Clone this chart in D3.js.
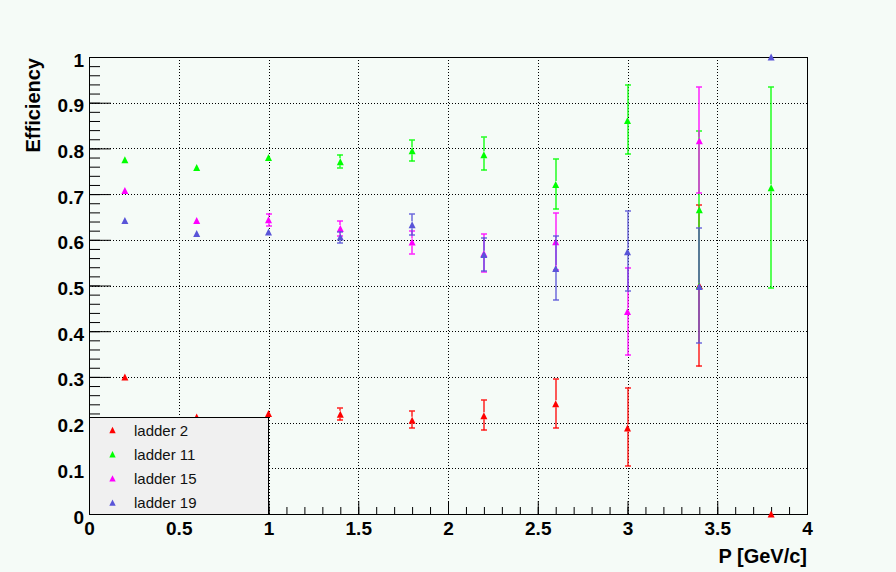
<!DOCTYPE html>
<html>
<head>
<meta charset="utf-8">
<script src="https://cdn.jsdelivr.net/npm/d3@7"></script>
<style>
  body { margin: 0; background: #f5fbf7; }
  svg { display: block; }
  text { font-family: "Liberation Sans", Arial, sans-serif; }
</style>
</head>
<body>
<svg id="chart" width="896" height="572"></svg>
<script>
// momentum bins (GeV/c)
const pValues = [0.2, 0.6, 1.0, 1.4, 1.8, 2.2, 2.6, 3.0, 3.4, 3.8];

// efficiency per ladder, with lower / upper errors (null = no point)
const ladder2Eff     = [0.300, 0.212, 0.220, 0.218, 0.205, 0.215, 0.241, 0.188, 0.500, 0.000];
const ladder2ErrLow  = [0.004, 0.006, 0.007, 0.013, 0.017, 0.032, 0.053, 0.083, 0.177, 0];
const ladder2ErrHigh = [0.004, 0.006, 0.007, 0.013, 0.020, 0.034, 0.054, 0.087, 0.176, 0];

const ladder11Eff     = [0.775, 0.758, 0.780, 0.771, 0.795, 0.786, 0.721, 0.861, 0.666, 0.714];
const ladder11ErrLow  = [0.005, 0.006, 0.007, 0.013, 0.023, 0.034, 0.054, 0.074, 0.172, 0.220];
const ladder11ErrHigh = [0.005, 0.006, 0.007, 0.015, 0.023, 0.038, 0.055, 0.077, 0.171, 0.220];

const ladder15Eff     = [0.708, 0.642, 0.644, 0.625, 0.595, 0.570, 0.596, 0.443, 0.817, null];
const ladder15ErrLow  = [0.005, 0.007, 0.013, 0.016, 0.025, 0.040, 0.062, 0.096, 0.115, 0];
const ladder15ErrHigh = [0.005, 0.007, 0.013, 0.016, 0.024, 0.042, 0.062, 0.096, 0.117, 0];

const ladder19Eff     = [0.642, 0.614, 0.617, 0.606, 0.633, 0.568, 0.537, 0.574, 0.498, 1.000];
const ladder19ErrLow  = [0.005, 0.007, 0.007, 0.013, 0.023, 0.037, 0.069, 0.085, 0.124, 0];
const ladder19ErrHigh = [0.005, 0.007, 0.007, 0.012, 0.023, 0.037, 0.071, 0.088, 0.127, 0];

const seriesNames  = ["ladder 2", "ladder 11", "ladder 15", "ladder 19"];
const seriesColors = ["#ff0000", "#00ff00", "#ff00ff", "#5954d8"];

const xMajorTicks = [0, 0.5, 1, 1.5, 2, 2.5, 3, 3.5, 4];
const yMajorTicks = [0, 0.1, 0.2, 0.3, 0.4, 0.5, 0.6, 0.7, 0.8, 0.9, 1];

const xTitle = "P [GeV/c]";
const yTitle = "Efficiency";

let margin = {top: 57, right: 89, bottom: 58, left: 89},
    width = 896 - margin.left - margin.right,
    height = 572 - margin.top - margin.bottom;

let markerSize = 3.5;

let svg = d3.select("#chart");
let g = svg.append("g").attr("transform", `translate(${margin.left},${margin.top})`);

let x = d3.scaleLinear().domain([0, 4]).range([0, width]);
let y = d3.scaleLinear().domain([0, 1]).range([height, 0]);

// build series objects from the arrays
let effs = [ladder2Eff, ladder11Eff, ladder15Eff, ladder19Eff];
let lows = [ladder2ErrLow, ladder11ErrLow, ladder15ErrLow, ladder19ErrLow];
let highs = [ladder2ErrHigh, ladder11ErrHigh, ladder15ErrHigh, ladder19ErrHigh];
let series = seriesNames.map(function (name, i) {
    let pts = [];
    pValues.forEach(function (p, j) {
        if (effs[i][j] === null) return;
        pts.push({p: p, eff: effs[i][j], lo: lows[i][j], hi: highs[i][j]});
    });
    return {name: name, color: seriesColors[i], points: pts};
});

// dotted grid
g.append("g").selectAll("line")
    .data(xMajorTicks.filter(d => d > 0 && d < 4))
    .enter().append("line")
    .attr("x1", d => Math.round(x(d)) + 0.5).attr("x2", d => Math.round(x(d)) + 0.5)
    .attr("y1", 0).attr("y2", height)
    .attr("stroke", "#000").attr("stroke-dasharray", "1,2");
g.append("g").selectAll("line")
    .data(yMajorTicks.filter(d => d > 0 && d < 1))
    .enter().append("line")
    .attr("y1", d => Math.round(y(d)) + 0.5).attr("y2", d => Math.round(y(d)) + 0.5)
    .attr("x1", 0).attr("x2", width)
    .attr("stroke", "#000").attr("stroke-dasharray", "1,2");

// frame
g.append("rect")
    .attr("x", 0.5).attr("y", 0.5)
    .attr("width", width).attr("height", height)
    .attr("fill", "none").attr("stroke", "#000");

// minor ticks
g.append("g")
    .call(d3.axisLeft(y).ticks(50).tickSizeInner(-11).tickSizeOuter(0).tickFormat(""))
    .call(a => a.select(".domain").remove());
g.append("g")
    .attr("transform", `translate(0,${height})`)
    .call(d3.axisBottom(x).ticks(40).tickSizeInner(-7).tickSizeOuter(0).tickFormat(""))
    .call(a => a.select(".domain").remove());

// major ticks + labels
let yAxis = g.append("g")
    .call(d3.axisLeft(y).tickValues(yMajorTicks).tickSizeInner(-22).tickSizeOuter(0)
        .tickPadding(5).tickFormat(d => String(+d.toFixed(1))));
yAxis.select(".domain").remove();
yAxis.selectAll("text")
    .attr("dy", null).attr("y", 9)
    .style("font-size", "19px").style("font-weight", "bold").attr("fill", "#000");

let xAxis = g.append("g")
    .attr("transform", `translate(0,${height})`)
    .call(d3.axisBottom(x).tickValues(xMajorTicks).tickSizeInner(-13).tickSizeOuter(0)
        .tickFormat(d => String(d)));
xAxis.select(".domain").remove();
xAxis.selectAll("text")
    .attr("dy", null).attr("y", 21)
    .style("font-size", "19px").style("font-weight", "bold").attr("fill", "#000");

// axis titles
svg.append("text")
    .attr("x", margin.left + width).attr("y", 563)
    .attr("text-anchor", "end")
    .style("font-size", "20px").style("font-weight", "bold")
    .text(xTitle);
svg.append("text")
    .attr("transform", "translate(39.5,58) rotate(-90)")
    .attr("text-anchor", "end")
    .style("font-size", "20px").style("font-weight", "bold")
    .text(yTitle);

// triangle marker path centred on 0,0
function triangle(s) {
    return `M0,${-s}L${s},${s}L${-s},${s}Z`;
}

// graphs: error bars (outside the marker, like ROOT) then markers
series.forEach(function (s) {
    let sg = g.append("g");
    let bars = [];
    s.points.forEach(function (d) {
        let cx = Math.round(x(d.p));
        let cy = y(d.eff);
        let top = y(d.eff + d.hi), bot = y(d.eff - d.lo);
        if (cy - top > markerSize) bars.push({x: cx, y0: cy - markerSize, y1: top});
        if (bot - cy > markerSize) bars.push({x: cx, y0: cy + markerSize, y1: bot});
    });
    sg.selectAll(".err")
        .data(bars).enter().append("line")
        .attr("x1", d => d.x).attr("x2", d => d.x)
        .attr("y1", d => d.y0).attr("y2", d => d.y1)
        .attr("stroke", s.color).attr("stroke-width", 1.3);
    sg.selectAll(".cap")
        .data(bars).enter().append("line")
        .attr("x1", d => d.x - 3).attr("x2", d => d.x + 3)
        .attr("y1", d => Math.round(d.y1)).attr("y2", d => Math.round(d.y1))
        .attr("stroke", s.color).attr("stroke-width", 1.3);
    sg.selectAll("path")
        .data(s.points).enter().append("path")
        .attr("d", triangle(markerSize))
        .attr("transform", d => `translate(${x(d.p)},${y(d.eff)})`)
        .attr("fill", s.color);
});

// legend
let legend = svg.append("g");
legend.append("rect")
    .attr("x", margin.left + 0.5).attr("y", 417.5)
    .attr("width", 179).attr("height", 514 - 417)
    .attr("fill", "#f0f0f0").attr("stroke", "#000");
let rows = legend.selectAll(".row")
    .data(series).enter().append("g")
    .attr("transform", (d, i) => `translate(0,${430 + i * 24.2})`);
rows.append("path")
    .attr("d", triangle(3.2))
    .attr("transform", "translate(112.5,0)")
    .attr("fill", d => d.color);
rows.append("text")
    .attr("x", 134).attr("y", 5.5)
    .style("font-size", "15px").attr("fill", "#111")
    .text(d => d.name);
</script>
</body>
</html>
